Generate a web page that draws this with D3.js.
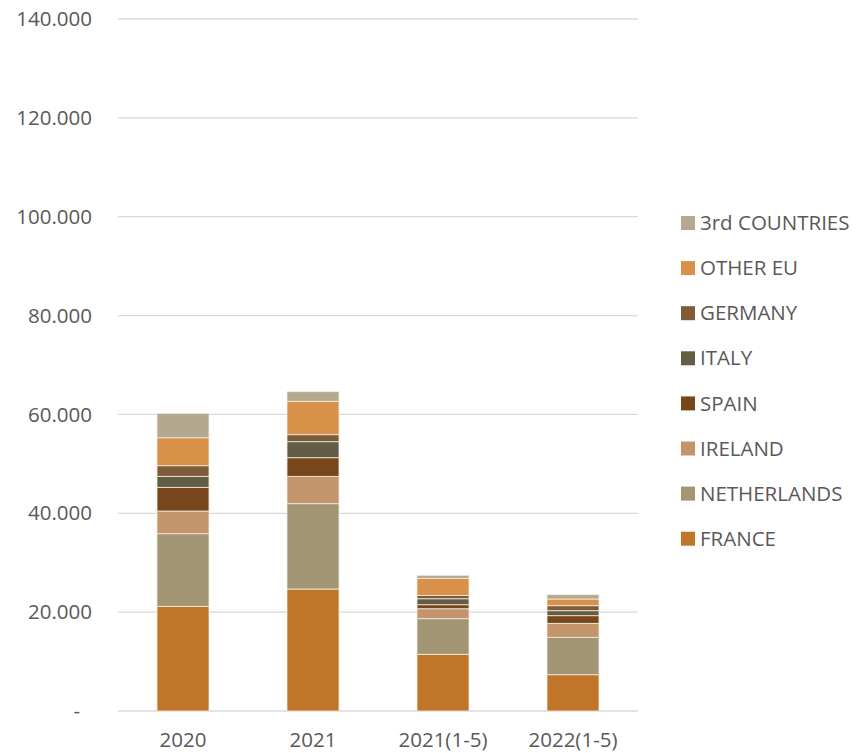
<!DOCTYPE html>
<html>
<head>
<meta charset="utf-8">
<script src="https://cdn.jsdelivr.net/npm/d3@7"></script>
<style>
  html, body { margin: 0; padding: 0; background: #ffffff; }
  svg { display: block; }
  text { font-family: "Open Sans", Lato, sans-serif; fill: #595959; }
</style>
</head>
<body>
<svg id="chart" width="856" height="753"></svg>
<script>
const categories = ["2020", "2021", "2021(1-5)", "2022(1-5)"];
const seriesNames = ["FRANCE", "NETHERLANDS", "IRELAND", "SPAIN", "ITALY", "GERMANY", "OTHER EU", "3rd COUNTRIES"];
const france      = [21180, 24680, 11470, 7340];
const netherlands = [14690, 17260, 7200, 7570];
const ireland     = [4590, 5540, 2020, 2830];
const spain       = [4790, 3760, 810, 1540];
const italy       = [2230, 3240, 1210, 1010];
const germany     = [2140, 1420, 690, 1010];
const otherEU     = [5660, 6760, 3440, 1360];
const thirdCountries = [4940, 1940, 610, 870];
const seriesColors = ["#C07528", "#A29574", "#C4956B", "#77461B", "#635D46", "#805B3A", "#D9914A", "#B3A98E"];
const yTicks = [0, 20000, 40000, 60000, 80000, 100000, 120000, 140000];

const seriesValues = [france, netherlands, ireland, spain, italy, germany, otherEU, thirdCountries];
const rows = categories.map((c, i) => {
  const r = { category: c };
  seriesNames.forEach((s, j) => { r[s] = seriesValues[j][i]; });
  return r;
});

const svg = d3.select("#chart");
const x = d3.scaleBand().domain(categories).range([118, 638]).paddingInner(0.6).paddingOuter(0.3);
const y = d3.scaleLinear().domain([0, 140000]).range([711, 19]);
const color = d3.scaleOrdinal().domain(seriesNames).range(seriesColors);

const locale = d3.formatLocale({ decimal: ",", thousands: ".", grouping: [3], currency: ["", ""] });
const fmt = locale.format(",.0f");

// gridlines
svg.append("g").selectAll("line").data(yTicks).join("line")
  .attr("x1", 118).attr("x2", 638)
  .attr("y1", d => y(d)).attr("y2", d => y(d))
  .attr("stroke", "#D9D9D9").attr("stroke-width", 1.3);

// y axis labels
svg.append("g").selectAll("text").data(yTicks).join("text")
  .attr("x", d => d === 0 ? 80 : 92)
  .attr("y", d => y(d))
  .attr("dy", "0.35em")
  .attr("text-anchor", "end")
  .style("font-size", "20.5px")
  .text(d => d === 0 ? "-" : fmt(d));

// stacked bars
const stack = d3.stack().keys(seriesNames);
const stacked = stack(rows);
svg.append("g").selectAll("g").data(stacked).join("g")
  .attr("fill", d => color(d.key))
  .selectAll("rect").data(d => d).join("rect")
  .attr("x", d => x(d.data.category))
  .attr("width", x.bandwidth())
  .attr("y", d => y(d[1]))
  .attr("height", d => y(d[0]) - y(d[1]))
  .attr("stroke", "#F2EDE6").attr("stroke-width", 0.8);

// x labels
svg.append("g").selectAll("text").data(categories).join("text")
  .attr("x", d => x(d) + x.bandwidth() / 2)
  .attr("y", 747)
  .attr("text-anchor", "middle")
  .style("font-size", "20.5px")
  .text(d => d);

// legend
const legendOrder = seriesNames.slice().reverse();
const lg = svg.append("g").selectAll("g").data(legendOrder).join("g")
  .attr("transform", (d, i) => `translate(681, ${223 + i * 45.1})`);
lg.append("rect").attr("x", 0).attr("y", -7).attr("width", 14).attr("height", 14)
  .attr("fill", d => color(d));
lg.append("text").attr("x", 19).attr("y", 0).attr("dy", "0.35em")
  .style("font-size", "20.5px").text(d => d);
</script>
</body>
</html>
